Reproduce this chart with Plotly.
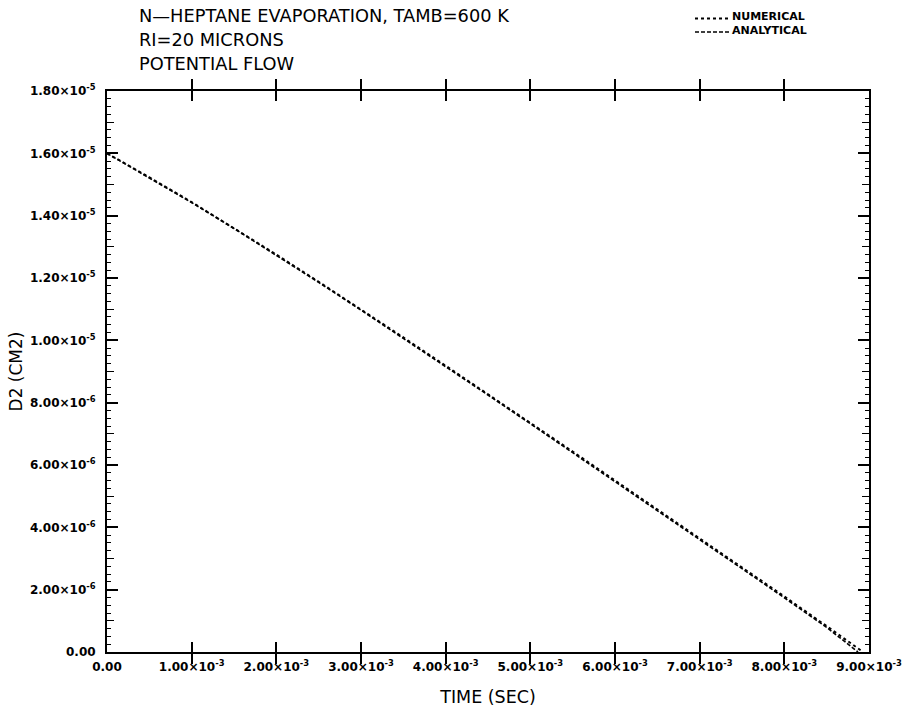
import plotly.graph_objects as go

# time in seconds
t_num = [0.0, 0.5e-3, 1.0e-3, 1.5e-3, 2.0e-3, 2.5e-3, 3.0e-3, 3.5e-3, 4.0e-3, 4.5e-3,
         5.0e-3, 5.5e-3, 6.0e-3, 6.5e-3, 7.0e-3, 7.5e-3, 8.0e-3, 8.5e-3, 8.93e-3]
d2_num = [1.6000e-5, 1.5232e-5, 1.4434e-5, 1.3606e-5, 1.2753e-5, 1.1880e-5, 1.0992e-5, 1.0094e-5,
          0.9186e-5, 0.8273e-5, 0.7355e-5, 0.6432e-5, 0.5504e-5, 0.4576e-5, 0.3648e-5, 0.2715e-5,
          0.1782e-5, 0.0830e-5, 0.0]
t_ana = [0.0, 0.5e-3, 1.0e-3, 1.5e-3, 2.0e-3, 2.5e-3, 3.0e-3, 3.5e-3, 4.0e-3, 4.5e-3,
         5.0e-3, 5.5e-3, 6.0e-3, 6.5e-3, 7.0e-3, 7.5e-3, 8.0e-3, 8.5e-3, 8.87e-3]
d2_ana = [1.6000e-5, 1.5220e-5, 1.4420e-5, 1.3590e-5, 1.2735e-5, 1.1860e-5, 1.0970e-5, 1.0070e-5,
          0.9160e-5, 0.8245e-5, 0.7325e-5, 0.6400e-5, 0.5470e-5, 0.4540e-5, 0.3610e-5, 0.2675e-5,
          0.1740e-5, 0.0790e-5, 0.0]

series_names = ["NUMERICAL", "ANALYTICAL"]

x_tickvals = [0, 1e-3, 2e-3, 3e-3, 4e-3, 5e-3, 6e-3, 7e-3, 8e-3, 9e-3]
x_ticktext = ["0.00"] + [f"{i}.00×10<sup>-3</sup>" for i in range(1, 10)]
y_tickvals = [0, 2e-6, 4e-6, 6e-6, 8e-6, 1.0e-5, 1.2e-5, 1.4e-5, 1.6e-5, 1.8e-5]
y_ticktext = ["0.00", "2.00×10<sup>-6</sup>", "4.00×10<sup>-6</sup>", "6.00×10<sup>-6</sup>",
              "8.00×10<sup>-6</sup>", "1.00×10<sup>-5</sup>", "1.20×10<sup>-5</sup>",
              "1.40×10<sup>-5</sup>", "1.60×10<sup>-5</sup>", "1.80×10<sup>-5</sup>"]
y_midticks = [1e-6, 3e-6, 5e-6, 7e-6, 9e-6, 1.1e-5, 1.3e-5, 1.5e-5, 1.7e-5]

title_lines = ["N—HEPTANE EVAPORATION, TAMB=600 K", "RI=20 MICRONS", "POTENTIAL FLOW"]

FONT = "DejaVu Sans, Verdana, sans-serif"
W, H = 903, 713
ML, MR, MT, MB = 107, 34, 91, 61
PW, PH = W - ML - MR, H - MT - MB


def px_x(x):
    return (x - ML) / PW


def px_y(y):
    return (H - MB - y) / PH


fig = go.Figure()
fig.add_trace(go.Scatter(x=t_num, y=d2_num, mode="lines", name=series_names[0],
                         line=dict(color="black", width=2, dash="dot")))
fig.add_trace(go.Scatter(x=t_ana, y=d2_ana, mode="lines", name=series_names[1],
                         line=dict(color="black", width=1.6, dash="4px,2px")))
# invisible trace to carry the secondary (mid-tick) axis
fig.add_trace(go.Scatter(x=[0], y=[0], yaxis="y2", mode="markers", showlegend=False,
                         marker=dict(opacity=0), hoverinfo="skip"))

axis_common = dict(showline=True, linecolor="black", linewidth=2, mirror="allticks",
                   ticks="inside", tickcolor="black", showgrid=False, zeroline=False,
                   automargin=False)

fig.update_layout(
    width=W, height=H,
    margin=dict(l=ML, r=MR, t=MT, b=MB, autoexpand=False),
    paper_bgcolor="white", plot_bgcolor="white",
    font=dict(family=FONT, color="black"),
    showlegend=False,
    xaxis=dict(range=[0, 9e-3], tickvals=x_tickvals, ticktext=x_ticktext, ticklen=10, tickwidth=1.5,
               tickfont=dict(size=12, family=FONT, weight="bold"), ticklabelstandoff=3,
               title=dict(text="TIME (SEC)", font=dict(size=17.5, family=FONT), standoff=17),
               **axis_common),
    yaxis=dict(range=[0, 1.8e-5], tickvals=y_tickvals, ticktext=y_ticktext, ticklen=11, tickwidth=1.5,
               tickfont=dict(size=12, family=FONT, weight="bold"), ticklabelstandoff=7,
               minor=dict(dtick=2.5e-7, tick0=0, ticklen=4, ticks="inside", tickcolor="black", tickwidth=1),
               title=dict(text="D2 (CM2)", font=dict(size=17, family=FONT), standoff=3),
               **axis_common),
    yaxis2=dict(range=[0, 1.8e-5], overlaying="y", tickvals=y_midticks, ticklen=7, tickwidth=1.2,
                showticklabels=False, showline=False, mirror="allticks", ticks="inside",
                tickcolor="black", showgrid=False, zeroline=False, automargin=False),
)

for i, line in enumerate(title_lines):
    fig.add_annotation(text=line, xref="paper", yref="paper", x=px_x(137),
                       y=px_y(15.5 + 24 * i), xanchor="left", yanchor="middle",
                       showarrow=False, font=dict(size=17.8, family=FONT))

# legend key
legend_rows = [(series_names[0], "dot", 2, 16.5), (series_names[1], "4px,2px", 1.6, 30)]
for name, dash, wdt, yc in legend_rows:
    fig.add_shape(type="line", xref="paper", yref="paper",
                  x0=px_x(695), x1=px_x(731), y0=px_y(yc + 2), y1=px_y(yc + 2),
                  line=dict(color="black", width=wdt, dash=dash))
    fig.add_annotation(text=name, xref="paper", yref="paper", x=px_x(731), y=px_y(yc),
                       xanchor="left", yanchor="middle", showarrow=False, borderpad=0,
                       font=dict(size=11, family=FONT, weight="bold"))

fig.write_html("out.html")
